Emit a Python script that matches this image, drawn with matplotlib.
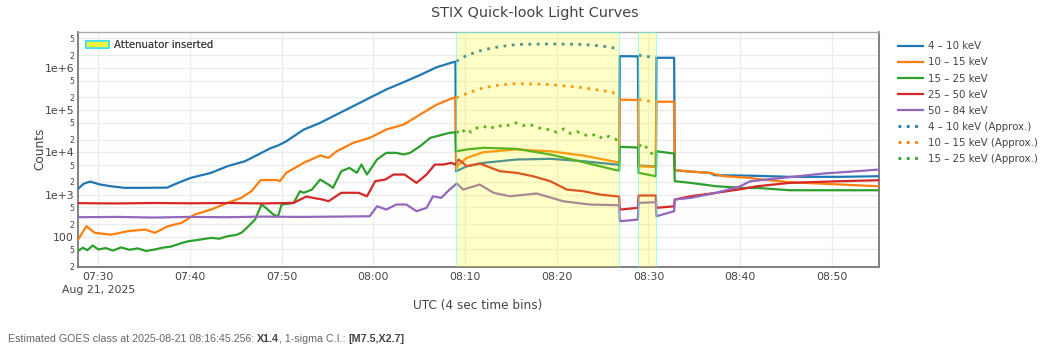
import matplotlib
matplotlib.use("Agg")
import matplotlib.pyplot as plt
from matplotlib.ticker import FixedLocator, FixedFormatter
from matplotlib.patches import Patch
import numpy as np
import pandas as pd

nan = float("nan")
t0 = pd.Timestamp("2025-08-21 07:30:00")

t_4_10 = [-2.2, -1.6, -0.9, 0.2, 1.4, 2.9, 5.0, 7.5, 8.7, 10.1, 12.3, 14.1, 16.0, 17.8, 18.7, 19.6, 20.5,
          22.4, 24.2, 26.0, 27.8, 29.6, 31.4, 33.3, 35.1, 36.9, 38.7, 38.95, 39.02, 40.2, 42.0, 45.6, 49.3,
          52.9, 56.5, 56.8, 56.87, 58.85, 58.92, 60.8, 60.87, 62.8, 62.87, 64.6, 66.7, 67.2, 71.1, 75.4,
          80.9, 85.2]
c_4_10 = [1365, 1800, 2030, 1730, 1570, 1440, 1440, 1460, 1890, 2490, 3270, 4700, 6160, 9730, 12300, 14500,
          18300, 34500, 50000, 79000, 124000, 196000, 308000, 460000, 680000, 1040000, 1370000, 1400000,
          3560, 4690, 5630, 6760, 7020, 6160, 5140, 5050, 1900000, 1880000, 4870, 4650, 1740000, 1740000,
          3770, 3500, 3260, 2870, 2800, 2630, 2630, 2720]

t_10_15 = [-2.2, -1.3, -0.4, 1.4, 3.2, 5.1, 6.2, 7.6, 9.1, 10.5, 12.3, 14.1, 15.6, 16.7, 17.7, 19.5, 19.8,
           20.5, 22.4, 24.2, 25.1, 26.0, 27.8, 29.6, 31.4, 33.3, 35.1, 36.9, 38.7, 38.95, 39.02, 39.3, 40.2,
           42.0, 45.6, 49.3, 52.9, 56.5, 56.8, 56.87, 58.85, 58.92, 60.8, 60.87, 62.8, 62.87, 64.6, 66.7,
           68.2, 71.1, 71.8, 75.4, 80.9, 85.2]
c_10_15 = [86, 178, 124, 112, 135, 148, 124, 178, 214, 335, 440, 636, 835, 1200, 2200, 2200, 2070, 3270,
           5630, 8400, 7400, 10600, 16800, 22000, 34700, 45600, 78900, 135000, 196000, 200000, 3920, 5140,
           7400, 10100, 11700, 10600, 8400, 5930, 5700, 178000, 173000, 4690, 4500, 158000, 158000, 3770,
           3500, 3260, 2720, 2490, 2350, 1960, 1730, 1570]

t_15_25 = [-2.2, -1.7, -1.2, -0.6, 0.0, 0.8, 1.6, 2.5, 3.4, 4.3, 5.2, 6.2, 7.0, 8.0, 9.0, 9.8, 11.0, 12.3,
           13.2, 14.1, 15.0, 15.6, 16.0, 17.1, 17.8, 18.3, 19.1, 19.6, 20.0, 21.3, 22.0, 22.4, 23.3, 24.2,
           25.1, 25.6, 26.5, 27.4, 28.2, 28.7, 29.3, 30.4, 31.4, 32.5, 33.3, 34.0, 35.1, 36.2, 38.3, 38.95,
           39.02, 40.2, 42.0, 45.6, 49.3, 52.9, 56.5, 56.8, 56.87, 58.85, 58.92, 60.8, 60.87, 62.8, 62.87,
           64.6, 67.4, 70.3, 71.8, 75.4, 80.9, 85.2]
c_15_25 = [46, 55, 48, 62, 50, 54, 47, 56, 49, 53, 46, 50, 55, 59, 70, 78, 85, 94, 90, 103, 110, 124, 148,
           255, 580, 480, 335, 306, 580, 630, 1200, 1100, 1310, 2270, 1725, 1440, 3560, 4290, 3270, 5140,
           2980, 6760, 9730, 9730, 8900, 9730, 14000, 22000, 29000, 30000, 10600, 11700, 12800, 12100, 8900,
           5850, 3770, 3700, 13500, 13000, 3270, 2720, 10600, 9360, 2070, 1890, 1570, 1440, 1440, 1265,
           1265, 1265]

t_25_50 = [-2.2, 2.0, 6.0, 10.0, 14.0, 18.0, 21.3, 22.7, 23.4, 24.5, 25.1, 26.5, 28.4, 29.3, 30.2, 31.3,
           32.2, 33.4, 34.7, 35.8, 36.7, 37.6, 38.5, 38.95, 39.3, 40.2, 41.6, 43.8, 45.6, 47.4, 49.3, 51.1,
           52.9, 54.7, 56.5, 56.8, 56.87, 58.85, 58.92, 60.8, 60.87, 62.8, 62.87, 64.6, 67.4, 70.3, 71.8,
           75.4, 80.9, 85.2]
c_25_50 = [625, 615, 630, 620, 630, 615, 635, 900, 834, 760, 693, 1100, 1100, 910, 2070, 2270, 2980, 2980,
           1890, 2980, 5140, 5140, 5630, 5140, 6760, 4690, 5430, 3570, 3270, 2720, 2070, 1310, 1200, 1000,
           910, 900, 440, 484, 950, 950, 484, 527, 761, 910, 1100, 1365, 1570, 1890, 2070, 2190]

t_50_84 = [-2.2, 2.0, 6.0, 10.0, 14.0, 18.0, 22.0, 26.0, 29.6, 30.4, 31.4, 32.5, 33.6, 34.7, 35.8, 36.5,
           37.4, 38.3, 39.1, 39.8, 41.6, 43.1, 44.9, 47.8, 50.7, 53.6, 56.5, 56.8, 56.87, 58.85, 58.92,
           60.8, 60.87, 62.8, 62.87, 64.6, 67.4, 70.0, 71.1, 73.6, 79.1, 82.7, 85.2]
c_50_84 = [290, 295, 285, 295, 290, 300, 295, 300, 306, 528, 440, 580, 580, 403, 484, 910, 834, 1310, 1820,
           1310, 1725, 1100, 910, 1060, 693, 580, 560, 555, 233, 255, 635, 657, 306, 403, 761, 834, 1100,
           1570, 2070, 2350, 3150, 3570, 3920]

# approximate (attenuator-corrected) curves, nan = gap between the two attenuator periods
t_approx = [39.05, 40.2, 42.0, 43.8, 45.6, 49.3, 52.9, 55.0, 56.5, 56.8, 57.8, 58.95, 60.8]
c_4_10_approx = [1.44e6, 2.0e6, 2.7e6, 3.2e6, 3.6e6, 3.7e6, 3.6e6, 3.3e6, 2.9e6, 2.85e6, nan, 2.0e6, 1.74e6]
c_10_15_approx = [196000, 250000, 340000, 395000, 426000, 405000, 340000, 290000, 250000, 245000, nan,
                  178000, 155000]
t_15_25_approx = [39.05, 39.6, 40.0, 40.7, 41.3, 42.0, 42.7, 43.5, 44.3, 45.0, 45.6, 46.3, 47.0, 47.8, 48.5,
                  49.3, 50.0, 50.8, 51.5, 52.2, 52.9, 53.6, 54.3, 55.0, 55.7, 56.5, 56.8, 57.8, 58.95, 59.5,
                  60.0, 60.5, 60.8]
c_15_25_approx = [31500, 27000, 36000, 30000, 38000, 41600, 36000, 44000, 40000, 47000, 50000, 43000, 46000,
                  40000, 35000, 34700, 30000, 36000, 28000, 31000, 26500, 24000, 27000, 21000, 24000, 20000,
                  22000, nan, 14000, 16000, 11000, 8900, 9500]

att_start = [39.0, 58.89]
att_end = [56.82, 60.82]

x_ticks = [0, 10, 20, 30, 40, 50, 60, 70, 80]
x_tick_labels = ["07:30\nAug 21, 2025", "07:40", "07:50", "08:00", "08:10", "08:20", "08:30", "08:40", "08:50"]
y_major = [1e2, 1e3, 1e4, 1e5, 1e6]
y_major_labels = ["100", "1e+3", "1e+4", "1e+5", "1e+6"]
y_minor = [20, 50, 200, 500, 2e3, 5e3, 2e4, 5e4, 2e5, 5e5, 2e6, 5e6]
y_minor_labels = ["2", "5"] * 6


def when(minutes):
    return t0 + pd.to_timedelta(np.asarray(minutes, dtype=float), unit="min")


plt.rcParams["font.family"] = ["DejaVu Sans"]
fig = plt.figure(figsize=(10.48, 3.48), dpi=100)
ax = fig.add_axes([0.0747, 0.2336, 0.7643, 0.6744])

colors = ["#1f77b4", "#ff7f0e", "#2ca02c", "#d62728", "#9467bd"]
labels = ["4 – 10 keV", "10 – 15 keV", "15 – 25 keV", "25 – 50 keV", "50 – 84 keV"]
series = [(t_4_10, c_4_10), (t_10_15, c_10_15), (t_15_25, c_15_25), (t_25_50, c_25_50), (t_50_84, c_50_84)]

handles = []
for (t, c), col, lab in zip(series, colors, labels):
    ln, = ax.plot(when(t), c, color=col, lw=1.6, label=lab, zorder=3)
    handles.append(ln)

approx = [(t_approx, c_4_10_approx), (t_approx, c_10_15_approx), (t_15_25_approx, c_15_25_approx)]
for (t, c), col, lab in zip(approx, colors[:3], labels[:3]):
    ln, = ax.plot(when(t), c, color=col, lw=2.0, linestyle=(0, (1, 2)), label=lab + " (Approx.)", zorder=3)
    handles.append(ln)

# attenuator periods, drawn on top of the traces like the original shapes
for a, b in zip(att_start, att_end):
    ax.axvspan(when(a), when(b), facecolor=(1, 1, 0, 0.22), edgecolor=(0.3, 1, 1, 0.5), lw=0.8, zorder=4)

ax.set_yscale("log")
ax.set_ylim(19.5, 7.1e6)
ax.set_xlim(when(-2.18), when(85.17))
ax.yaxis.set_major_locator(FixedLocator(y_major))
ax.yaxis.set_major_formatter(FixedFormatter(y_major_labels))
ax.yaxis.set_minor_locator(FixedLocator(y_minor))
ax.yaxis.set_minor_formatter(FixedFormatter(y_minor_labels))
ax.set_xticks(when(x_ticks))
ax.set_xticklabels(x_tick_labels)
for lbl in ax.get_xticklabels():
    lbl.set_linespacing(1.3)

ax.tick_params(axis="both", which="both", length=0, colors="#444")
ax.tick_params(axis="x", labelsize=7.8, pad=4)
ax.tick_params(axis="y", which="major", labelsize=7.8, pad=3)
ax.tick_params(axis="y", which="minor", labelsize=5.6, pad=3)
ax.grid(True, which="both", color="#ececec", lw=1, zorder=0)
ax.set_axisbelow(True)

for side in ["left", "bottom", "right"]:
    ax.spines[side].set_color("#777")
    ax.spines[side].set_linewidth(1.3)
ax.spines["top"].set_color("#aaa")
ax.spines["top"].set_linewidth(1.0)

att_leg = ax.legend(handles=[Patch(facecolor="#f4f440", edgecolor="#40e0f0", lw=1.2)],
                    labels=["Attenuator inserted"], loc="upper left", frameon=False, fontsize=7.3,
                    handlelength=2.2, handleheight=0.7, handletextpad=0.5, borderaxespad=0.4,
                    labelcolor="#444")
ax.add_artist(att_leg)
fig.legend(handles=handles, loc="upper left", bbox_to_anchor=(0.857, 0.881), frameon=False, fontsize=7.4,
           handlelength=2.4, handletextpad=0.5, labelspacing=0.59, borderaxespad=0, borderpad=0,
           labelcolor="#444")

fig.text(0.51, 0.964, "STIX Quick-look Light Curves", ha="center", va="center", fontsize=10.4, color="#444")
fig.text(0.0385, 0.571, "Counts", rotation=90, ha="center", va="center", fontsize=8.7, color="#444")
fig.text(0.456, 0.123, "UTC (4 sec time bins)", ha="center", va="center", fontsize=8.7, color="#444")

# GOES estimate line: normal and bold pieces chained one after another
parts = ["Estimated GOES class at 2025-08-21 08:16:45.256: ", "X1.4", ", 1-sigma C.I.: ", "[M7.5,X2.7]"]
weights = ["normal", "bold", "normal", "bold"]
part_colors = ["#666", "#444", "#666", "#444"]
prev = fig.text(0.0075, 0.011, parts[0], ha="left", va="bottom", fontsize=7.7, color=part_colors[0],
                family="Liberation Sans")
for txt, w, col in zip(parts[1:], weights[1:], part_colors[1:]):
    prev = ax.annotate(txt, xy=(1, 0), xycoords=prev, ha="left", va="bottom", fontsize=7.7, fontweight=w,
                       color=col, family="Liberation Sans", annotation_clip=False)

fig.savefig("out.png", dpi=100)
